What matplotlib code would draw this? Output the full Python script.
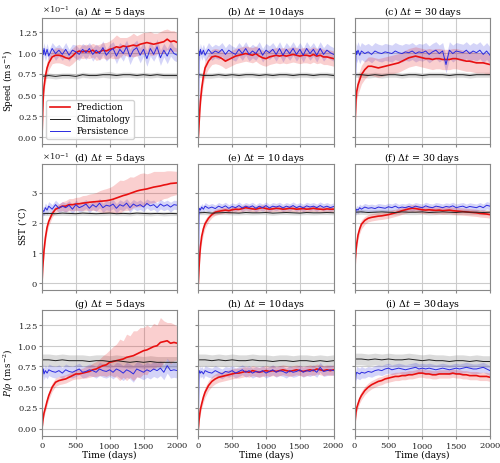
import numpy as np
import matplotlib
matplotlib.use("Agg")
import matplotlib.pyplot as plt
from matplotlib.ticker import MultipleLocator

plt.rcParams['font.family'] = ['DejaVu Serif']
plt.rcParams['mathtext.fontset'] = 'dejavuserif'
plt.rcParams['axes.formatter.use_mathtext'] = True
plt.rcParams['font.size'] = 6

# ---------------- data ----------------
T = [0, 10, 20, 30, 50, 75, 100, 150, 200, 250, 300, 350, 400, 450, 500, 550, 600, 650, 700, 750,
     800, 850, 900, 950, 1000, 1050, 1100, 1150, 1200, 1250, 1300, 1350, 1400, 1450, 1500, 1550,
     1600, 1650, 1700, 1750, 1800, 1850, 1900, 1950, 2000]
TC = [0, 100, 200, 300, 400, 500, 600, 700, 800, 900, 1000, 1100, 1200, 1300, 1400, 1500, 1600,
      1700, 1800, 1900, 2000]

COL_TITLES = ["5", "10", "30"]
ROW_LABELS = [r"Speed (m$\,$s$^{-1}$)", r"SST ($^{\circ}$C)", r"$P/\rho$ (m$\,$s$^{-2}$)"]
PANEL_LETTERS = ["a", "b", "c", "d", "e", "f", "g", "h", "i"]
SERIES_NAMES = ["Prediction", "Climatology", "Persistence"]
XTICKS = [0, 500, 1000, 1500, 2000]

# Speed (x1e-1 m/s), dt = 5 days
SPD5_PRED = [0, 0.30, 0.50, 0.60, 0.72, 0.82, 0.88, 0.95, 0.97, 0.97, 0.96, 0.94, 0.93, 0.96, 1.00,
             1.02, 1.01, 1.02, 1.01, 1.03, 1.00, 1.01, 1.03, 1.02, 1.04, 1.05, 1.07, 1.06, 1.08, 1.07,
             1.08, 1.09, 1.08, 1.10, 1.11, 1.12, 1.11, 1.10, 1.11, 1.12, 1.13, 1.16, 1.13, 1.14, 1.12]
SPD5_PRED_BAND = [0, 0.05, 0.06, 0.07, 0.08, 0.08, 0.08, 0.08, 0.09, 0.09, 0.09, 0.09, 0.09, 0.09, 0.09,
                  0.08, 0.08, 0.08, 0.08, 0.08, 0.09, 0.09, 0.09, 0.10, 0.10, 0.12, 0.14, 0.12, 0.10, 0.11,
                  0.12, 0.14, 0.12, 0.12, 0.13, 0.12, 0.14, 0.13, 0.12, 0.13, 0.14, 0.12, 0.13, 0.12, 0.11]
SPD5_PERS = [0, 1.03, 0.98, 1.05, 0.97, 1.04, 0.96, 1.05, 0.99, 1.03, 0.98, 1.04, 0.97, 1.03, 1.01,
             0.98, 1.04, 1.00, 1.05, 0.98, 1.03, 0.99, 1.06, 0.97, 1.02, 1.05, 0.96, 1.04, 0.99, 1.07,
             0.95, 1.03, 1.06, 0.97, 1.04, 0.93, 1.05, 0.98, 1.07, 0.94, 1.03, 0.96, 1.05, 0.99, 0.97]
SPD5_PERS_BAND = [0, 0.06, 0.07, 0.07, 0.07, 0.07, 0.07, 0.07, 0.08, 0.07, 0.07, 0.08, 0.07, 0.07, 0.08,
                  0.07, 0.07, 0.08, 0.07, 0.08, 0.07, 0.08, 0.08, 0.07, 0.08, 0.08, 0.09, 0.08, 0.09, 0.08,
                  0.09, 0.08, 0.09, 0.09, 0.08, 0.09, 0.09, 0.08, 0.09, 0.09, 0.08, 0.09, 0.09, 0.08, 0.08]
SPD5_CLIM = [0.72, 0.73, 0.72, 0.73, 0.73, 0.72, 0.74, 0.73, 0.73, 0.74, 0.74, 0.73, 0.74, 0.74, 0.73,
             0.74, 0.73, 0.74, 0.73, 0.73, 0.73]
SPD5_CLIM_BAND = [0.03, 0.03, 0.03, 0.03, 0.03, 0.03, 0.03, 0.03, 0.03, 0.03, 0.04, 0.03, 0.03, 0.03,
                  0.03, 0.03, 0.03, 0.03, 0.03, 0.03, 0.03]

# Speed, dt = 10 days
SPD10_PRED = [0, 0.15, 0.30, 0.42, 0.58, 0.72, 0.82, 0.90, 0.95, 0.96, 0.95, 0.93, 0.90, 0.92, 0.94,
              0.96, 0.97, 0.98, 0.99, 0.98, 0.97, 0.99, 0.96, 0.94, 0.93, 0.95, 0.96, 0.97, 0.96, 0.97,
              0.96, 0.97, 0.98, 0.97, 0.96, 0.97, 0.97, 0.96, 0.98, 0.96, 0.97, 0.95, 0.95, 0.94, 0.93]
SPD10_PRED_BAND = [0, 0.05, 0.07, 0.08, 0.09, 0.09, 0.09, 0.09, 0.09, 0.09, 0.09, 0.09, 0.09, 0.09, 0.09,
                   0.09, 0.09, 0.09, 0.09, 0.09, 0.09, 0.09, 0.09, 0.09, 0.09, 0.09, 0.09, 0.09, 0.09, 0.09,
                   0.09, 0.09, 0.09, 0.09, 0.09, 0.09, 0.09, 0.09, 0.09, 0.09, 0.09, 0.09, 0.09, 0.09, 0.09]
SPD10_PERS = [0, 1.02, 0.97, 1.04, 0.98, 1.03, 0.97, 1.04, 0.99, 1.02, 1.00, 1.04, 0.98, 1.03, 1.00,
              0.98, 1.04, 0.99, 1.05, 0.98, 1.02, 0.99, 1.05, 0.97, 1.03, 1.00, 1.04, 0.98, 1.05, 0.97,
              1.04, 0.99, 1.05, 0.98, 1.04, 0.97, 1.05, 0.99, 1.04, 0.97, 1.05, 0.98, 1.03, 1.00, 0.98]
SPD10_PERS_BAND = [0, 0.07, 0.07, 0.07, 0.07, 0.07, 0.07, 0.08, 0.08, 0.08, 0.08, 0.08, 0.08, 0.08, 0.08,
                   0.08, 0.08, 0.08, 0.08, 0.08, 0.08, 0.08, 0.08, 0.08, 0.08, 0.08, 0.08, 0.08, 0.08, 0.08,
                   0.08, 0.08, 0.08, 0.08, 0.08, 0.08, 0.08, 0.08, 0.08, 0.08, 0.08, 0.08, 0.08, 0.08, 0.08]
SPD10_CLIM = [0.74, 0.73, 0.73, 0.74, 0.73, 0.74, 0.73, 0.74, 0.74, 0.73, 0.74, 0.73, 0.74, 0.74, 0.73,
              0.74, 0.74, 0.73, 0.74, 0.74, 0.73]
SPD10_CLIM_BAND = [0.03, 0.03, 0.03, 0.03, 0.03, 0.03, 0.03, 0.03, 0.03, 0.03, 0.03, 0.03, 0.03, 0.03,
                   0.03, 0.03, 0.03, 0.03, 0.03, 0.03, 0.03]

# Speed, dt = 30 days
SPD30_PRED = [0, 0.25, 0.45, 0.54, 0.62, 0.68, 0.74, 0.80, 0.84, 0.84, 0.83, 0.82, 0.83, 0.84, 0.85,
              0.86, 0.87, 0.88, 0.90, 0.92, 0.94, 0.95, 0.96, 0.95, 0.94, 0.93, 0.93, 0.92, 0.93, 0.93,
              0.92, 0.92, 0.92, 0.93, 0.93, 0.92, 0.91, 0.90, 0.90, 0.89, 0.88, 0.88, 0.88, 0.87, 0.86]
SPD30_PRED_BAND = [0, 0.06, 0.08, 0.10, 0.11, 0.11, 0.11, 0.11, 0.11, 0.11, 0.11, 0.11, 0.11, 0.11, 0.11,
                   0.11, 0.11, 0.11, 0.11, 0.11, 0.11, 0.11, 0.11, 0.11, 0.11, 0.11, 0.12, 0.12, 0.12, 0.12,
                   0.12, 0.12, 0.12, 0.12, 0.12, 0.12, 0.12, 0.12, 0.12, 0.12, 0.12, 0.12, 0.12, 0.12, 0.12]
SPD30_PERS = [0, 0.60, 1.02, 0.98, 1.03, 0.97, 1.02, 0.99, 1.01, 0.98, 1.02, 1.00, 0.99, 1.01, 1.00,
              0.99, 1.02, 1.00, 0.99, 1.01, 1.00, 1.02, 0.99, 1.01, 1.00, 1.02, 0.98, 1.01, 1.03, 0.99,
              1.02, 0.86, 1.03, 0.99, 1.02, 1.01, 1.00, 1.03, 0.99, 1.02, 1.00, 1.03, 0.98, 1.02, 0.97]
SPD30_PERS_BAND = [0, 0.08, 0.10, 0.10, 0.10, 0.10, 0.10, 0.10, 0.10, 0.10, 0.10, 0.10, 0.10, 0.10, 0.10,
                   0.10, 0.10, 0.10, 0.10, 0.10, 0.10, 0.10, 0.10, 0.10, 0.10, 0.10, 0.10, 0.10, 0.10, 0.10,
                   0.10, 0.10, 0.10, 0.10, 0.10, 0.10, 0.10, 0.10, 0.10, 0.10, 0.10, 0.10, 0.10, 0.10, 0.10]
SPD30_CLIM = [0.74, 0.74, 0.73, 0.74, 0.73, 0.74, 0.74, 0.73, 0.74, 0.74, 0.73, 0.74, 0.74, 0.74, 0.73,
              0.74, 0.74, 0.73, 0.74, 0.74, 0.74]
SPD30_CLIM_BAND = [0.03, 0.03, 0.03, 0.03, 0.03, 0.03, 0.03, 0.03, 0.03, 0.03, 0.03, 0.03, 0.03, 0.03,
                   0.03, 0.03, 0.03, 0.03, 0.03, 0.03, 0.03]

# SST (x1e-1 degC), dt = 5 days
SST5_PRED = [0, 0.50, 0.80, 1.10, 1.50, 1.85, 2.05, 2.30, 2.45, 2.50, 2.55, 2.55, 2.60, 2.60, 2.62,
             2.63, 2.65, 2.66, 2.68, 2.69, 2.70, 2.71, 2.72, 2.73, 2.75, 2.78, 2.82, 2.86, 2.90, 2.93,
             2.97, 3.01, 3.05, 3.08, 3.10, 3.12, 3.15, 3.18, 3.20, 3.22, 3.25, 3.27, 3.30, 3.31, 3.32]
SST5_PRED_BAND = [0, 0.10, 0.15, 0.15, 0.15, 0.15, 0.15, 0.12, 0.10, 0.12, 0.15, 0.18, 0.20, 0.20, 0.22,
                  0.22, 0.25, 0.25, 0.27, 0.28, 0.30, 0.35, 0.38, 0.40, 0.42, 0.45, 0.50, 0.55, 0.50, 0.52,
                  0.55, 0.50, 0.52, 0.55, 0.55, 0.50, 0.50, 0.52, 0.50, 0.48, 0.45, 0.45, 0.42, 0.40, 0.38]
SST5_PERS = [0, 2.35, 2.40, 2.38, 2.50, 2.42, 2.55, 2.45, 2.60, 2.48, 2.55, 2.50, 2.58, 2.45, 2.60,
             2.50, 2.55, 2.62, 2.48, 2.60, 2.52, 2.65, 2.50, 2.58, 2.55, 2.62, 2.48, 2.60, 2.55, 2.65,
             2.50, 2.62, 2.55, 2.60, 2.52, 2.64, 2.56, 2.60, 2.50, 2.62, 2.55, 2.60, 2.52, 2.60, 2.58]
SST5_PERS_BAND = [0, 0.12, 0.14, 0.14, 0.15, 0.15, 0.15, 0.15, 0.15, 0.15, 0.15, 0.15, 0.15, 0.15, 0.15,
                  0.15, 0.15, 0.15, 0.15, 0.15, 0.15, 0.16, 0.15, 0.15, 0.16, 0.15, 0.15, 0.16, 0.15, 0.15,
                  0.16, 0.15, 0.15, 0.16, 0.15, 0.15, 0.16, 0.15, 0.15, 0.16, 0.15, 0.15, 0.16, 0.15, 0.15]
SST5_CLIM = [2.30, 2.31, 2.30, 2.32, 2.31, 2.30, 2.32, 2.31, 2.30, 2.31, 2.32, 2.30, 2.31, 2.30, 2.32,
             2.31, 2.30, 2.31, 2.30, 2.31, 2.30]
SST5_CLIM_BAND = [0.06, 0.07, 0.06, 0.07, 0.07, 0.06, 0.07, 0.07, 0.06, 0.07, 0.07, 0.06, 0.07, 0.07,
                  0.06, 0.07, 0.07, 0.06, 0.07, 0.07, 0.06]

# SST, dt = 10 days
SST10_PRED = [0, 0.50, 0.90, 1.20, 1.55, 1.80, 1.97, 2.15, 2.27, 2.35, 2.38, 2.40, 2.42, 2.40, 2.43,
              2.45, 2.44, 2.47, 2.50, 2.48, 2.46, 2.45, 2.48, 2.50, 2.47, 2.45, 2.46, 2.48, 2.47, 2.45,
              2.46, 2.48, 2.47, 2.45, 2.46, 2.47, 2.45, 2.46, 2.48, 2.46, 2.45, 2.44, 2.46, 2.45, 2.45]
SST10_PRED_BAND = [0, 0.10, 0.15, 0.18, 0.20, 0.18, 0.15, 0.12, 0.10, 0.10, 0.10, 0.10, 0.10, 0.10, 0.10,
                   0.10, 0.10, 0.10, 0.10, 0.10, 0.10, 0.10, 0.10, 0.10, 0.10, 0.10, 0.10, 0.10, 0.10, 0.10,
                   0.10, 0.10, 0.10, 0.10, 0.10, 0.10, 0.10, 0.10, 0.10, 0.10, 0.10, 0.10, 0.10, 0.10, 0.10]
SST10_PERS = [0, 2.40, 2.48, 2.42, 2.52, 2.45, 2.55, 2.48, 2.52, 2.47, 2.55, 2.50, 2.56, 2.48, 2.54,
              2.50, 2.57, 2.49, 2.55, 2.51, 2.56, 2.48, 2.55, 2.50, 2.57, 2.49, 2.55, 2.52, 2.56, 2.49,
              2.55, 2.51, 2.57, 2.50, 2.55, 2.49, 2.56, 2.52, 2.55, 2.50, 2.57, 2.51, 2.55, 2.50, 2.54]
SST10_PERS_BAND = [0, 0.12, 0.12, 0.12, 0.12, 0.12, 0.12, 0.12, 0.12, 0.12, 0.12, 0.12, 0.12, 0.12, 0.12,
                   0.12, 0.12, 0.12, 0.12, 0.12, 0.12, 0.12, 0.12, 0.12, 0.12, 0.12, 0.12, 0.12, 0.12, 0.12,
                   0.12, 0.12, 0.12, 0.12, 0.12, 0.12, 0.12, 0.12, 0.12, 0.12, 0.12, 0.12, 0.12, 0.12, 0.12]
SST10_CLIM = [2.33, 2.34, 2.32, 2.33, 2.34, 2.33, 2.32, 2.34, 2.33, 2.33, 2.34, 2.32, 2.33, 2.34, 2.33,
              2.32, 2.34, 2.33, 2.33, 2.34, 2.33]
SST10_CLIM_BAND = [0.06, 0.07, 0.07, 0.06, 0.07, 0.07, 0.06, 0.07, 0.07, 0.06, 0.07, 0.07, 0.06, 0.07,
                   0.07, 0.06, 0.07, 0.07, 0.06, 0.07, 0.07]

# SST, dt = 30 days
SST30_PRED = [0, 0.80, 1.10, 1.30, 1.60, 1.80, 1.95, 2.08, 2.15, 2.18, 2.20, 2.22, 2.23, 2.25, 2.27,
              2.30, 2.33, 2.36, 2.40, 2.43, 2.46, 2.48, 2.47, 2.45, 2.43, 2.42, 2.43, 2.42, 2.41, 2.42,
              2.40, 2.41, 2.42, 2.40, 2.39, 2.38, 2.37, 2.36, 2.35, 2.34, 2.33, 2.31, 2.30, 2.29, 2.27]
SST30_PRED_BAND = [0, 0.10, 0.15, 0.15, 0.15, 0.15, 0.15, 0.13, 0.12, 0.12, 0.12, 0.12, 0.12, 0.12, 0.12,
                   0.12, 0.12, 0.12, 0.12, 0.12, 0.12, 0.12, 0.12, 0.12, 0.12, 0.12, 0.12, 0.12, 0.12, 0.12,
                   0.12, 0.12, 0.12, 0.12, 0.12, 0.12, 0.12, 0.12, 0.12, 0.12, 0.12, 0.12, 0.12, 0.12, 0.12]
SST30_PERS = [1.20, 2.30, 2.40, 2.45, 2.42, 2.50, 2.45, 2.52, 2.48, 2.50, 2.47, 2.52, 2.50, 2.48, 2.53,
              2.50, 2.55, 2.49, 2.52, 2.50, 2.54, 2.50, 2.55, 2.52, 2.50, 2.56, 2.52, 2.50, 2.55, 2.53,
              2.50, 2.54, 2.52, 2.56, 2.50, 2.53, 2.55, 2.50, 2.54, 2.52, 2.50, 2.55, 2.50, 2.58, 2.55]
SST30_PERS_BAND = [0.10, 0.12, 0.12, 0.12, 0.12, 0.12, 0.12, 0.12, 0.12, 0.12, 0.12, 0.12, 0.12, 0.12, 0.12,
                   0.12, 0.12, 0.12, 0.12, 0.12, 0.12, 0.12, 0.12, 0.12, 0.12, 0.12, 0.12, 0.12, 0.12, 0.12,
                   0.12, 0.12, 0.12, 0.12, 0.12, 0.12, 0.12, 0.12, 0.12, 0.12, 0.12, 0.12, 0.12, 0.12, 0.12]
SST30_CLIM = [2.35, 2.36, 2.34, 2.35, 2.36, 2.35, 2.34, 2.36, 2.35, 2.35, 2.36, 2.34, 2.35, 2.36, 2.35,
              2.34, 2.36, 2.35, 2.35, 2.34, 2.35]
SST30_CLIM_BAND = [0.08, 0.08, 0.08, 0.08, 0.08, 0.08, 0.08, 0.08, 0.08, 0.08, 0.08, 0.08, 0.08, 0.08,
                   0.08, 0.08, 0.08, 0.08, 0.08, 0.08, 0.08]

# P/rho (m s^-2), dt = 5 days
PR5_PRED = [0, 0.08, 0.14, 0.19, 0.25, 0.33, 0.40, 0.50, 0.56, 0.58, 0.59, 0.60, 0.62, 0.64, 0.66,
            0.66, 0.67, 0.68, 0.69, 0.71, 0.72, 0.74, 0.76, 0.77, 0.80, 0.81, 0.82, 0.83, 0.84, 0.86,
            0.87, 0.88, 0.90, 0.92, 0.94, 0.95, 0.97, 0.99, 1.00, 1.04, 1.05, 1.06, 1.03, 1.04, 1.03]
PR5_PRED_BAND = [0, 0.03, 0.03, 0.04, 0.04, 0.05, 0.05, 0.05, 0.05, 0.05, 0.05, 0.05, 0.05, 0.05, 0.06,
                 0.06, 0.06, 0.07, 0.07, 0.08, 0.09, 0.10, 0.12, 0.14, 0.15, 0.18, 0.20, 0.25, 0.22, 0.28,
                 0.25, 0.30, 0.28, 0.30, 0.28, 0.30, 0.25, 0.28, 0.25, 0.30, 0.25, 0.22, 0.25, 0.22, 0.20]
PR5_PERS = [0, 0.68, 0.72, 0.66, 0.70, 0.67, 0.71, 0.69, 0.68, 0.70, 0.67, 0.71, 0.69, 0.68, 0.70,
            0.72, 0.68, 0.69, 0.71, 0.70, 0.68, 0.72, 0.70, 0.69, 0.71, 0.68, 0.72, 0.70, 0.67, 0.71,
            0.69, 0.66, 0.72, 0.70, 0.68, 0.71, 0.69, 0.72, 0.70, 0.73, 0.68, 0.76, 0.70, 0.71, 0.70]
PR5_PERS_BAND = [0, 0.07, 0.07, 0.07, 0.07, 0.07, 0.07, 0.07, 0.07, 0.07, 0.07, 0.07, 0.07, 0.07, 0.07,
                 0.07, 0.07, 0.07, 0.07, 0.07, 0.07, 0.08, 0.08, 0.08, 0.08, 0.08, 0.08, 0.09, 0.09, 0.09,
                 0.09, 0.10, 0.09, 0.09, 0.09, 0.09, 0.09, 0.09, 0.09, 0.09, 0.09, 0.09, 0.09, 0.09, 0.09]
PR5_CLIM = [0.83, 0.83, 0.82, 0.83, 0.82, 0.82, 0.82, 0.81, 0.82, 0.82, 0.81, 0.82, 0.81, 0.80, 0.81,
            0.80, 0.81, 0.80, 0.80, 0.80, 0.80]
PR5_CLIM_BAND = [0.07, 0.07, 0.07, 0.07, 0.07, 0.07, 0.07, 0.07, 0.07, 0.07, 0.07, 0.07, 0.07, 0.07,
                 0.07, 0.07, 0.07, 0.07, 0.07, 0.07, 0.07]

# P/rho, dt = 10 days
PR10_PRED = [0, 0.10, 0.17, 0.23, 0.30, 0.38, 0.44, 0.52, 0.57, 0.60, 0.62, 0.63, 0.64, 0.65, 0.66,
             0.67, 0.67, 0.68, 0.69, 0.68, 0.70, 0.69, 0.68, 0.69, 0.70, 0.69, 0.70, 0.69, 0.70, 0.71,
             0.70, 0.69, 0.70, 0.71, 0.70, 0.69, 0.70, 0.71, 0.70, 0.72, 0.71, 0.70, 0.71, 0.70, 0.71]
PR10_PRED_BAND = [0, 0.03, 0.04, 0.05, 0.05, 0.06, 0.06, 0.06, 0.06, 0.06, 0.06, 0.06, 0.06, 0.06, 0.06,
                  0.06, 0.06, 0.06, 0.06, 0.06, 0.06, 0.06, 0.06, 0.06, 0.06, 0.06, 0.06, 0.06, 0.06, 0.06,
                  0.06, 0.06, 0.06, 0.06, 0.06, 0.06, 0.06, 0.06, 0.06, 0.06, 0.06, 0.06, 0.06, 0.06, 0.06]
PR10_PERS = [0, 0.66, 0.70, 0.67, 0.69, 0.66, 0.70, 0.68, 0.67, 0.70, 0.68, 0.66, 0.69, 0.68, 0.70,
             0.67, 0.69, 0.71, 0.68, 0.70, 0.67, 0.69, 0.68, 0.70, 0.67, 0.69, 0.71, 0.68, 0.70, 0.69,
             0.67, 0.70, 0.68, 0.69, 0.71, 0.68, 0.70, 0.69, 0.71, 0.68, 0.74, 0.69, 0.70, 0.71, 0.70]
PR10_PERS_BAND = [0, 0.06, 0.06, 0.06, 0.06, 0.06, 0.06, 0.06, 0.06, 0.06, 0.06, 0.06, 0.06, 0.06, 0.06,
                  0.06, 0.06, 0.06, 0.06, 0.06, 0.06, 0.06, 0.06, 0.06, 0.06, 0.06, 0.06, 0.06, 0.06, 0.06,
                  0.06, 0.06, 0.06, 0.06, 0.06, 0.06, 0.06, 0.06, 0.06, 0.06, 0.06, 0.06, 0.06, 0.06, 0.06]
PR10_CLIM = [0.83, 0.83, 0.82, 0.83, 0.82, 0.83, 0.82, 0.82, 0.83, 0.82, 0.82, 0.81, 0.82, 0.82, 0.81,
             0.82, 0.82, 0.81, 0.82, 0.81, 0.82]
PR10_CLIM_BAND = [0.07, 0.07, 0.07, 0.07, 0.07, 0.07, 0.07, 0.07, 0.07, 0.07, 0.07, 0.07, 0.07, 0.07,
                  0.07, 0.07, 0.07, 0.07, 0.07, 0.07, 0.07]

# P/rho, dt = 30 days
PR30_PRED = [0, 0.12, 0.20, 0.25, 0.30, 0.36, 0.40, 0.46, 0.50, 0.53, 0.55, 0.57, 0.58, 0.60, 0.61,
             0.62, 0.63, 0.63, 0.64, 0.64, 0.65, 0.65, 0.66, 0.67, 0.67, 0.66, 0.66, 0.65, 0.65, 0.66,
             0.66, 0.66, 0.66, 0.67, 0.66, 0.66, 0.65, 0.65, 0.64, 0.64, 0.64, 0.63, 0.63, 0.63, 0.62]
PR30_PRED_BAND = [0, 0.04, 0.05, 0.05, 0.05, 0.05, 0.05, 0.05, 0.05, 0.05, 0.05, 0.05, 0.05, 0.05, 0.05,
                  0.05, 0.05, 0.05, 0.05, 0.05, 0.05, 0.05, 0.05, 0.05, 0.05, 0.05, 0.05, 0.05, 0.05, 0.05,
                  0.05, 0.05, 0.05, 0.05, 0.05, 0.05, 0.05, 0.05, 0.05, 0.05, 0.05, 0.05, 0.05, 0.05, 0.05]
PR30_PERS = [0.30, 0.55, 0.65, 0.68, 0.67, 0.66, 0.68, 0.67, 0.69, 0.68, 0.70, 0.71, 0.70, 0.72, 0.73,
             0.71, 0.72, 0.73, 0.72, 0.71, 0.72, 0.73, 0.74, 0.72, 0.73, 0.72, 0.73, 0.72, 0.71, 0.72,
             0.73, 0.72, 0.71, 0.72, 0.73, 0.72, 0.73, 0.74, 0.73, 0.72, 0.72, 0.73, 0.74, 0.72, 0.70]
PR30_PERS_BAND = [0.05, 0.07, 0.07, 0.07, 0.07, 0.07, 0.07, 0.06, 0.06, 0.06, 0.06, 0.06, 0.06, 0.06, 0.06,
                  0.06, 0.06, 0.06, 0.06, 0.06, 0.06, 0.06, 0.06, 0.06, 0.06, 0.06, 0.06, 0.06, 0.06, 0.06,
                  0.06, 0.06, 0.06, 0.06, 0.06, 0.06, 0.06, 0.06, 0.06, 0.06, 0.06, 0.06, 0.06, 0.06, 0.06]
PR30_CLIM = [0.84, 0.84, 0.83, 0.84, 0.83, 0.84, 0.83, 0.83, 0.84, 0.83, 0.82, 0.83, 0.82, 0.82, 0.81,
             0.82, 0.82, 0.81, 0.82, 0.81, 0.81]
PR30_CLIM_BAND = [0.07, 0.07, 0.07, 0.07, 0.07, 0.07, 0.07, 0.07, 0.07, 0.07, 0.07, 0.07, 0.07, 0.07,
                  0.07, 0.07, 0.07, 0.07, 0.07, 0.07, 0.07]

PANELS = [
    [(SPD5_PRED, SPD5_PRED_BAND, SPD5_CLIM, SPD5_CLIM_BAND, SPD5_PERS, SPD5_PERS_BAND),
     (SPD10_PRED, SPD10_PRED_BAND, SPD10_CLIM, SPD10_CLIM_BAND, SPD10_PERS, SPD10_PERS_BAND),
     (SPD30_PRED, SPD30_PRED_BAND, SPD30_CLIM, SPD30_CLIM_BAND, SPD30_PERS, SPD30_PERS_BAND)],
    [(SST5_PRED, SST5_PRED_BAND, SST5_CLIM, SST5_CLIM_BAND, SST5_PERS, SST5_PERS_BAND),
     (SST10_PRED, SST10_PRED_BAND, SST10_CLIM, SST10_CLIM_BAND, SST10_PERS, SST10_PERS_BAND),
     (SST30_PRED, SST30_PRED_BAND, SST30_CLIM, SST30_CLIM_BAND, SST30_PERS, SST30_PERS_BAND)],
    [(PR5_PRED, PR5_PRED_BAND, PR5_CLIM, PR5_CLIM_BAND, PR5_PERS, PR5_PERS_BAND),
     (PR10_PRED, PR10_PRED_BAND, PR10_CLIM, PR10_CLIM_BAND, PR10_PERS, PR10_PERS_BAND),
     (PR30_PRED, PR30_PRED_BAND, PR30_CLIM, PR30_CLIM_BAND, PR30_PERS, PR30_PERS_BAND)],
]
ROW_SCALE = [0.1, 0.1, 1.0]

# ---------------- styling ----------------
RED = '#e81010'
BLUE = '#2b2be0'
BLACK = '#222222'
ROW_YLIM = [(-0.075, 1.415), (-0.22, 3.95), (-0.09, 1.43)]
ROW_STEP = [0.25, 1.0, 0.25]
FS = 6.0

fig, axes = plt.subplots(3, 3, figsize=(5.0, 4.63), dpi=100, sharex=True, sharey='row')
fig.subplots_adjust(left=0.084, right=0.98, top=0.962, bottom=0.058, wspace=0.155, hspace=0.16)

t = np.array(T, dtype=float)
tc = np.array(TC, dtype=float)

for r in range(3):
    s = ROW_SCALE[r]
    for c in range(3):
        ax = axes[r, c]
        pred, predb, clim, climb, pers, persb = [np.array(a, dtype=float) * s for a in PANELS[r][c]]
        ax.fill_between(tc, clim - climb, clim + climb, color='#999999', alpha=0.35, lw=0)
        ax.fill_between(t, pers - persb, pers + persb, color=BLUE, alpha=0.2, lw=0)
        ax.fill_between(t, pred - predb, pred + predb, color=RED, alpha=0.2, lw=0)
        l1, = ax.plot(t, pred, color=RED, lw=1.2, label=SERIES_NAMES[0])
        l2, = ax.plot(tc, clim, color=BLACK, lw=0.7, label=SERIES_NAMES[1])
        l3, = ax.plot(t, pers, color=BLUE, lw=0.7, label=SERIES_NAMES[2])
        ax.set_xlim(0, 2000)
        ax.set_xticks(XTICKS)
        ax.set_ylim(ROW_YLIM[r][0] * s, ROW_YLIM[r][1] * s)
        ax.yaxis.set_major_locator(MultipleLocator(ROW_STEP[r] * s))
        ax.grid(True, color='#cccccc', lw=0.8)
        ax.set_axisbelow(True)
        for sp in ax.spines.values():
            sp.set_color('#888888')
        ax.tick_params(colors='#888888', labelcolor='#222222', labelsize=FS, length=2, pad=1.2)
        ax.set_title(r"(%s) $\Delta t$ = %s$\,$days" % (PANEL_LETTERS[3 * r + c], COL_TITLES[c]),
                     fontsize=FS + 0.8, pad=2.0, y=1.0)
        if r < 2:
            ax.ticklabel_format(axis='y', style='sci', scilimits=(0, 0), useMathText=True)
        if c == 0:
            ax.set_ylabel(ROW_LABELS[r], fontsize=FS + 0.3, labelpad=1)
        if r == 2:
            ax.set_xlabel("Time (days)", fontsize=FS + 0.6, labelpad=0)
        if r == 0 and c == 0:
            ax.legend(handles=[l1, l2, l3], loc='lower left', fontsize=FS + 0.4, framealpha=0.85,
                      handlelength=2.2, borderpad=0.4, labelspacing=0.3)

for r in range(3):
    for c in range(1, 3):
        axes[r, c].yaxis.get_offset_text().set_visible(False)
    axes[r, 0].yaxis.get_offset_text().set_fontsize(FS)

fig.savefig("out.png", dpi=100)
